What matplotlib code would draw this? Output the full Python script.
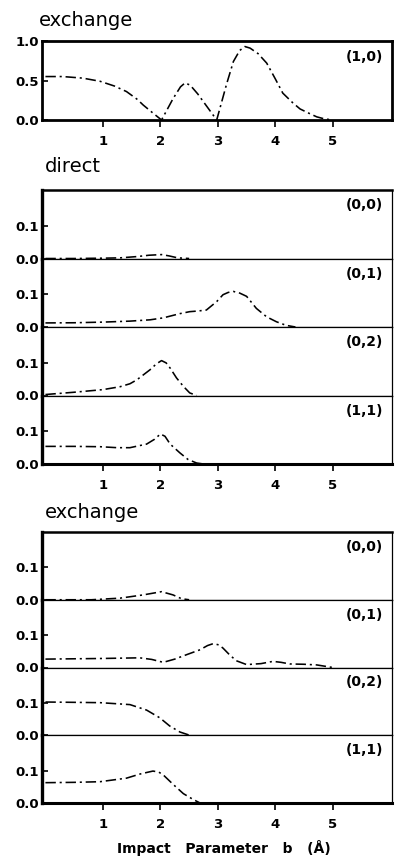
import matplotlib
matplotlib.use("Agg")
import matplotlib.pyplot as plt

# ---------------- data ----------------
top_label = "(1,0)"
top_x = [0.0, 0.3, 0.65, 0.95, 1.2, 1.41, 1.6, 1.7, 1.85, 2.02, 2.22, 2.35, 2.43, 2.52, 2.65, 2.8,
         2.98, 3.15, 3.27, 3.38, 3.47, 3.56, 3.7, 3.85, 4.0, 4.13, 4.3, 4.43, 4.6, 4.72, 4.85, 5.0]
top_y = [0.55, 0.55, 0.53, 0.49, 0.43, 0.36, 0.26, 0.19, 0.10, 0.0, 0.27, 0.42, 0.47, 0.44, 0.33,
         0.18, 0.0, 0.45, 0.74, 0.88, 0.93, 0.91, 0.84, 0.72, 0.52, 0.34, 0.22, 0.14, 0.08, 0.04,
         0.015, 0.0]

panel_labels = ["(0,0)", "(0,1)", "(0,2)", "(1,1)"]

direct_00_x = [0.0, 0.5, 1.0, 1.3, 1.6, 1.8, 2.02, 2.15, 2.3, 2.5]
direct_00_y = [0.0, 0.0, 0.001, 0.002, 0.006, 0.010, 0.012, 0.008, 0.002, 0.0]

direct_01_x = [0.0, 0.5, 1.0, 1.47, 1.82, 2.05, 2.34, 2.51, 2.65, 2.8, 2.98, 3.09, 3.18, 3.27,
               3.38, 3.5, 3.67, 3.85, 4.02, 4.19, 4.35]
direct_01_y = [0.0125, 0.013, 0.015, 0.018, 0.022, 0.028, 0.041, 0.047, 0.049, 0.052, 0.078,
               0.099, 0.106, 0.109, 0.104, 0.094, 0.057, 0.031, 0.016, 0.005, 0.0]

direct_02_x = [0.0, 0.5, 1.0, 1.3, 1.47, 1.59, 1.82, 1.93, 2.02, 2.1, 2.17, 2.28, 2.4, 2.51, 2.63]
direct_02_y = [0.003, 0.010, 0.018, 0.027, 0.036, 0.048, 0.079, 0.097, 0.107, 0.100, 0.084,
               0.054, 0.028, 0.008, 0.0]

direct_11_x = [0.0, 0.5, 0.95, 1.25, 1.47, 1.76, 1.9, 2.0, 2.08, 2.17, 2.34, 2.48, 2.63, 2.75]
direct_11_y = [0.054, 0.054, 0.053, 0.050, 0.050, 0.061, 0.076, 0.092, 0.085, 0.061, 0.034,
               0.014, 0.003, 0.0]

exch_00_x = [0.0, 0.8, 1.3, 1.7, 2.02, 2.22, 2.37, 2.5]
exch_00_y = [0.0, 0.0, 0.005, 0.015, 0.025, 0.015, 0.003, 0.0]

exch_01_x = [0.0, 0.5, 1.0, 1.64, 1.85, 2.05, 2.25, 2.46, 2.69, 2.82, 2.92, 3.02, 3.09, 3.2,
             3.32, 3.5, 3.75, 3.96, 4.1, 4.25, 4.5, 4.72, 5.0]
exch_01_y = [0.026, 0.027, 0.028, 0.030, 0.025, 0.016, 0.026, 0.040, 0.055, 0.068, 0.074,
             0.070, 0.060, 0.040, 0.021, 0.009, 0.012, 0.019, 0.016, 0.011, 0.010, 0.008, 0.0]

exch_02_x = [0.0, 0.5, 0.95, 1.47, 1.76, 1.99, 2.16, 2.34, 2.51]
exch_02_y = [0.103, 0.102, 0.101, 0.095, 0.078, 0.054, 0.029, 0.010, 0.0]

exch_11_x = [0.0, 0.5, 0.95, 1.41, 1.65, 1.87, 1.97, 2.05, 2.22, 2.4, 2.57, 2.69]
exch_11_y = [0.063, 0.064, 0.066, 0.077, 0.090, 0.099, 0.096, 0.087, 0.058, 0.029, 0.011, 0.0]

direct_series = [(direct_00_x, direct_00_y), (direct_01_x, direct_01_y),
                 (direct_02_x, direct_02_y), (direct_11_x, direct_11_y)]
exch_series = [(exch_00_x, exch_00_y), (exch_01_x, exch_01_y),
               (exch_02_x, exch_02_y), (exch_11_x, exch_11_y)]

x_ticks = [1, 2, 3, 4, 5]
x_ticklabels = ["1", "2", "3", "4", "5"]
top_yticks = [0.0, 0.5, 1.0]
top_yticklabels = ["0.0", "0.5", "1.0"]
small_yticks = [0.0, 0.1]
small_yticklabels = ["0.0", "0.1"]

# ---------------- layout ----------------
W, H = 395, 866
fig = plt.figure(figsize=(W / 100, H / 100), dpi=100)

XL, XR = 42, 392
XLIM = (-0.06, 6.03)
LS = (0, (6.5, 2.4, 1.3, 2.4))
LW = 1.15
TICKFONT = dict(family="DejaVu Sans", weight="bold", size=9.5)
LABFONT = dict(family="DejaVu Sans", weight="bold", size=10)


def ax_at(top_px, bot_px):
    return fig.add_axes([XL / W, 1 - bot_px / H, (XR - XL) / W, (bot_px - top_px) / H])


def style_ticks(ax, yt, ytl, show_x):
    ax.set_xlim(*XLIM)
    ax.set_yticks(yt)
    ax.set_yticklabels(ytl, **TICKFONT)
    ax.tick_params(axis="y", direction="in", length=4, width=1.2, pad=2)
    ax.set_xticks(x_ticks)
    if show_x:
        ax.set_xticklabels(x_ticklabels, **TICKFONT)
        ax.tick_params(axis="x", direction="out", length=5, width=1.2, pad=6)
    else:
        ax.tick_params(axis="x", length=0, labelbottom=False)


# top panel
ax = ax_at(41, 120)
ax.plot(top_x, top_y, color="black", lw=LW, linestyle=LS)
ax.set_ylim(0, 1.0)
style_ticks(ax, top_yticks, top_yticklabels, True)
for s in ax.spines.values():
    s.set_linewidth(2.0)
ax.text(0.975, 0.80, top_label, transform=ax.transAxes, ha="right", va="center", **LABFONT)
fig.text(39 / W, 1 - 20 / H, "exchange", ha="left", va="center",
         family="DejaVu Sans", size=14)


def block(top_px, bot_px, series, title, title_y):
    n = len(series)
    h = (bot_px - top_px) / n
    for i, (xs, ys) in enumerate(series):
        t = top_px + i * h
        b = t + h
        a = ax_at(t, b)
        a.plot(xs, ys, color="black", lw=LW, linestyle=LS)
        a.set_ylim(0, 0.21)
        last = (i == n - 1)
        style_ticks(a, small_yticks, small_yticklabels, last)
        a.spines["left"].set_linewidth(2.4)
        a.spines["right"].set_linewidth(0.9)
        a.spines["top"].set_linewidth(1.8 if i == 0 else 0.9)
        a.spines["bottom"].set_linewidth(2.2 if last else 0.9)
        a.text(0.975, 0.78, panel_labels[i], transform=a.transAxes,
               ha="right", va="center", **LABFONT)
    fig.text(45 / W, 1 - title_y / H, title, ha="left", va="center",
             family="DejaVu Sans", size=14)


block(190, 464, direct_series, "direct", 166)
block(532, 803, exch_series, "exchange", 513)

fig.text(224 / W, 1 - 848 / H, "Impact   Parameter   b   (Å)", ha="center", va="center",
         family="DejaVu Sans", weight="bold", size=10)

fig.savefig("out.png", dpi=100)
